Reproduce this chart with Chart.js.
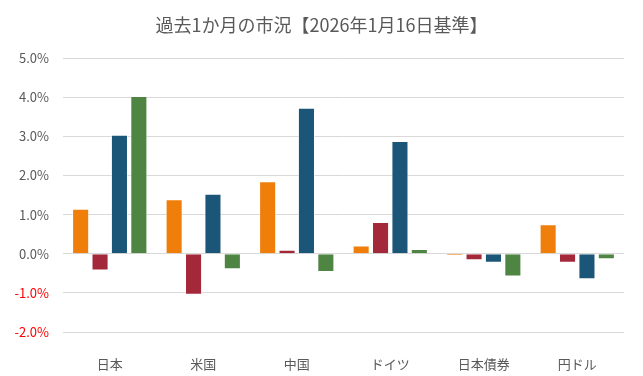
<!DOCTYPE html>
<html>
<head>
<meta charset="utf-8">
<script src="https://cdn.jsdelivr.net/npm/chart.js@4"></script>
<style>
html,body{margin:0;padding:0;background:#fff;}
#wrap{width:643px;height:376px;}
</style>
</head>
<body>
<div id="wrap"><canvas id="c" width="643" height="376"></canvas></div>
<script>
const titleText = '過去1か月の市況【2026年1月16日基準】';
const categories = ['日本', '米国', '中国', 'ドイツ', '日本債券', '円ドル'];
const series1 = [1.15, 1.39, 1.85, 0.21, -0.05, 0.75];
const series2 = [-0.43, -1.05, 0.10, 0.81, -0.17, -0.23];
const series3 = [3.04, 1.53, 3.73, 2.88, -0.23, -0.65];
const series4 = [4.03, -0.40, -0.47, 0.12, -0.58, -0.14];
const yTicks = [-2, -1, 0, 1, 2, 3, 4, 5];

const colors = ['#EF7F0A', '#A3283A', '#1B5679', '#4E8542'];
const allSeries = [series1, series2, series3, series4];
const FONT = '"Noto Sans CJK JP", "Noto Sans", sans-serif';

const centeredTitle = {
  id: 'centeredTitle',
  afterDraw(chart) {
    const ctx = chart.ctx;
    ctx.save();
    ctx.font = 'normal 18px ' + FONT;
    ctx.fillStyle = '#595959';
    ctx.textAlign = 'center';
    ctx.textBaseline = 'middle';
    ctx.fillText(titleText, chart.width / 2, 25);
    ctx.restore();
  }
};

new Chart(document.getElementById('c'), {
  type: 'bar',
  data: {
    labels: categories,
    datasets: allSeries.map((d, i) => ({
      data: d,
      backgroundColor: colors[i],
      borderColor: 'rgba(255,255,255,0.55)',
      borderWidth: 1,
      categoryPercentage: 0.83,
      barPercentage: 0.88
    }))
  },
  plugins: [centeredTitle],
  options: {
    responsive: false,
    animation: false,
    devicePixelRatio: 1,
    layout: { padding: { left: 0, right: 19, top: 58, bottom: 0 } },
    plugins: {
      legend: { display: false },
      tooltip: { enabled: false },
      title: { display: false }
    },
    scales: {
      x: {
        grid: { display: false },
        border: { display: false },
        ticks: { color: '#595959', font: { family: FONT, size: 13 }, padding: 16 },
        afterFit: (s) => { s.height = 44; }
      },
      y: {
        min: -2, max: 5,
        afterBuildTicks: (s) => { s.ticks = yTicks.map(v => ({ value: v })); },
        grid: { color: '#D9D9D9', lineWidth: 1, drawTicks: false },
        border: { display: false },
        ticks: {
          padding: 14,
          font: { family: FONT, size: 13 },
          color: (ctx) => (ctx.tick && ctx.tick.value < 0 ? '#FF0000' : '#595959'),
          callback: (v) => Number(v).toFixed(1) + '%'
        },
        afterFit: (s) => { s.width = 63; }
      }
    }
  }
});
</script>
</body>
</html>
